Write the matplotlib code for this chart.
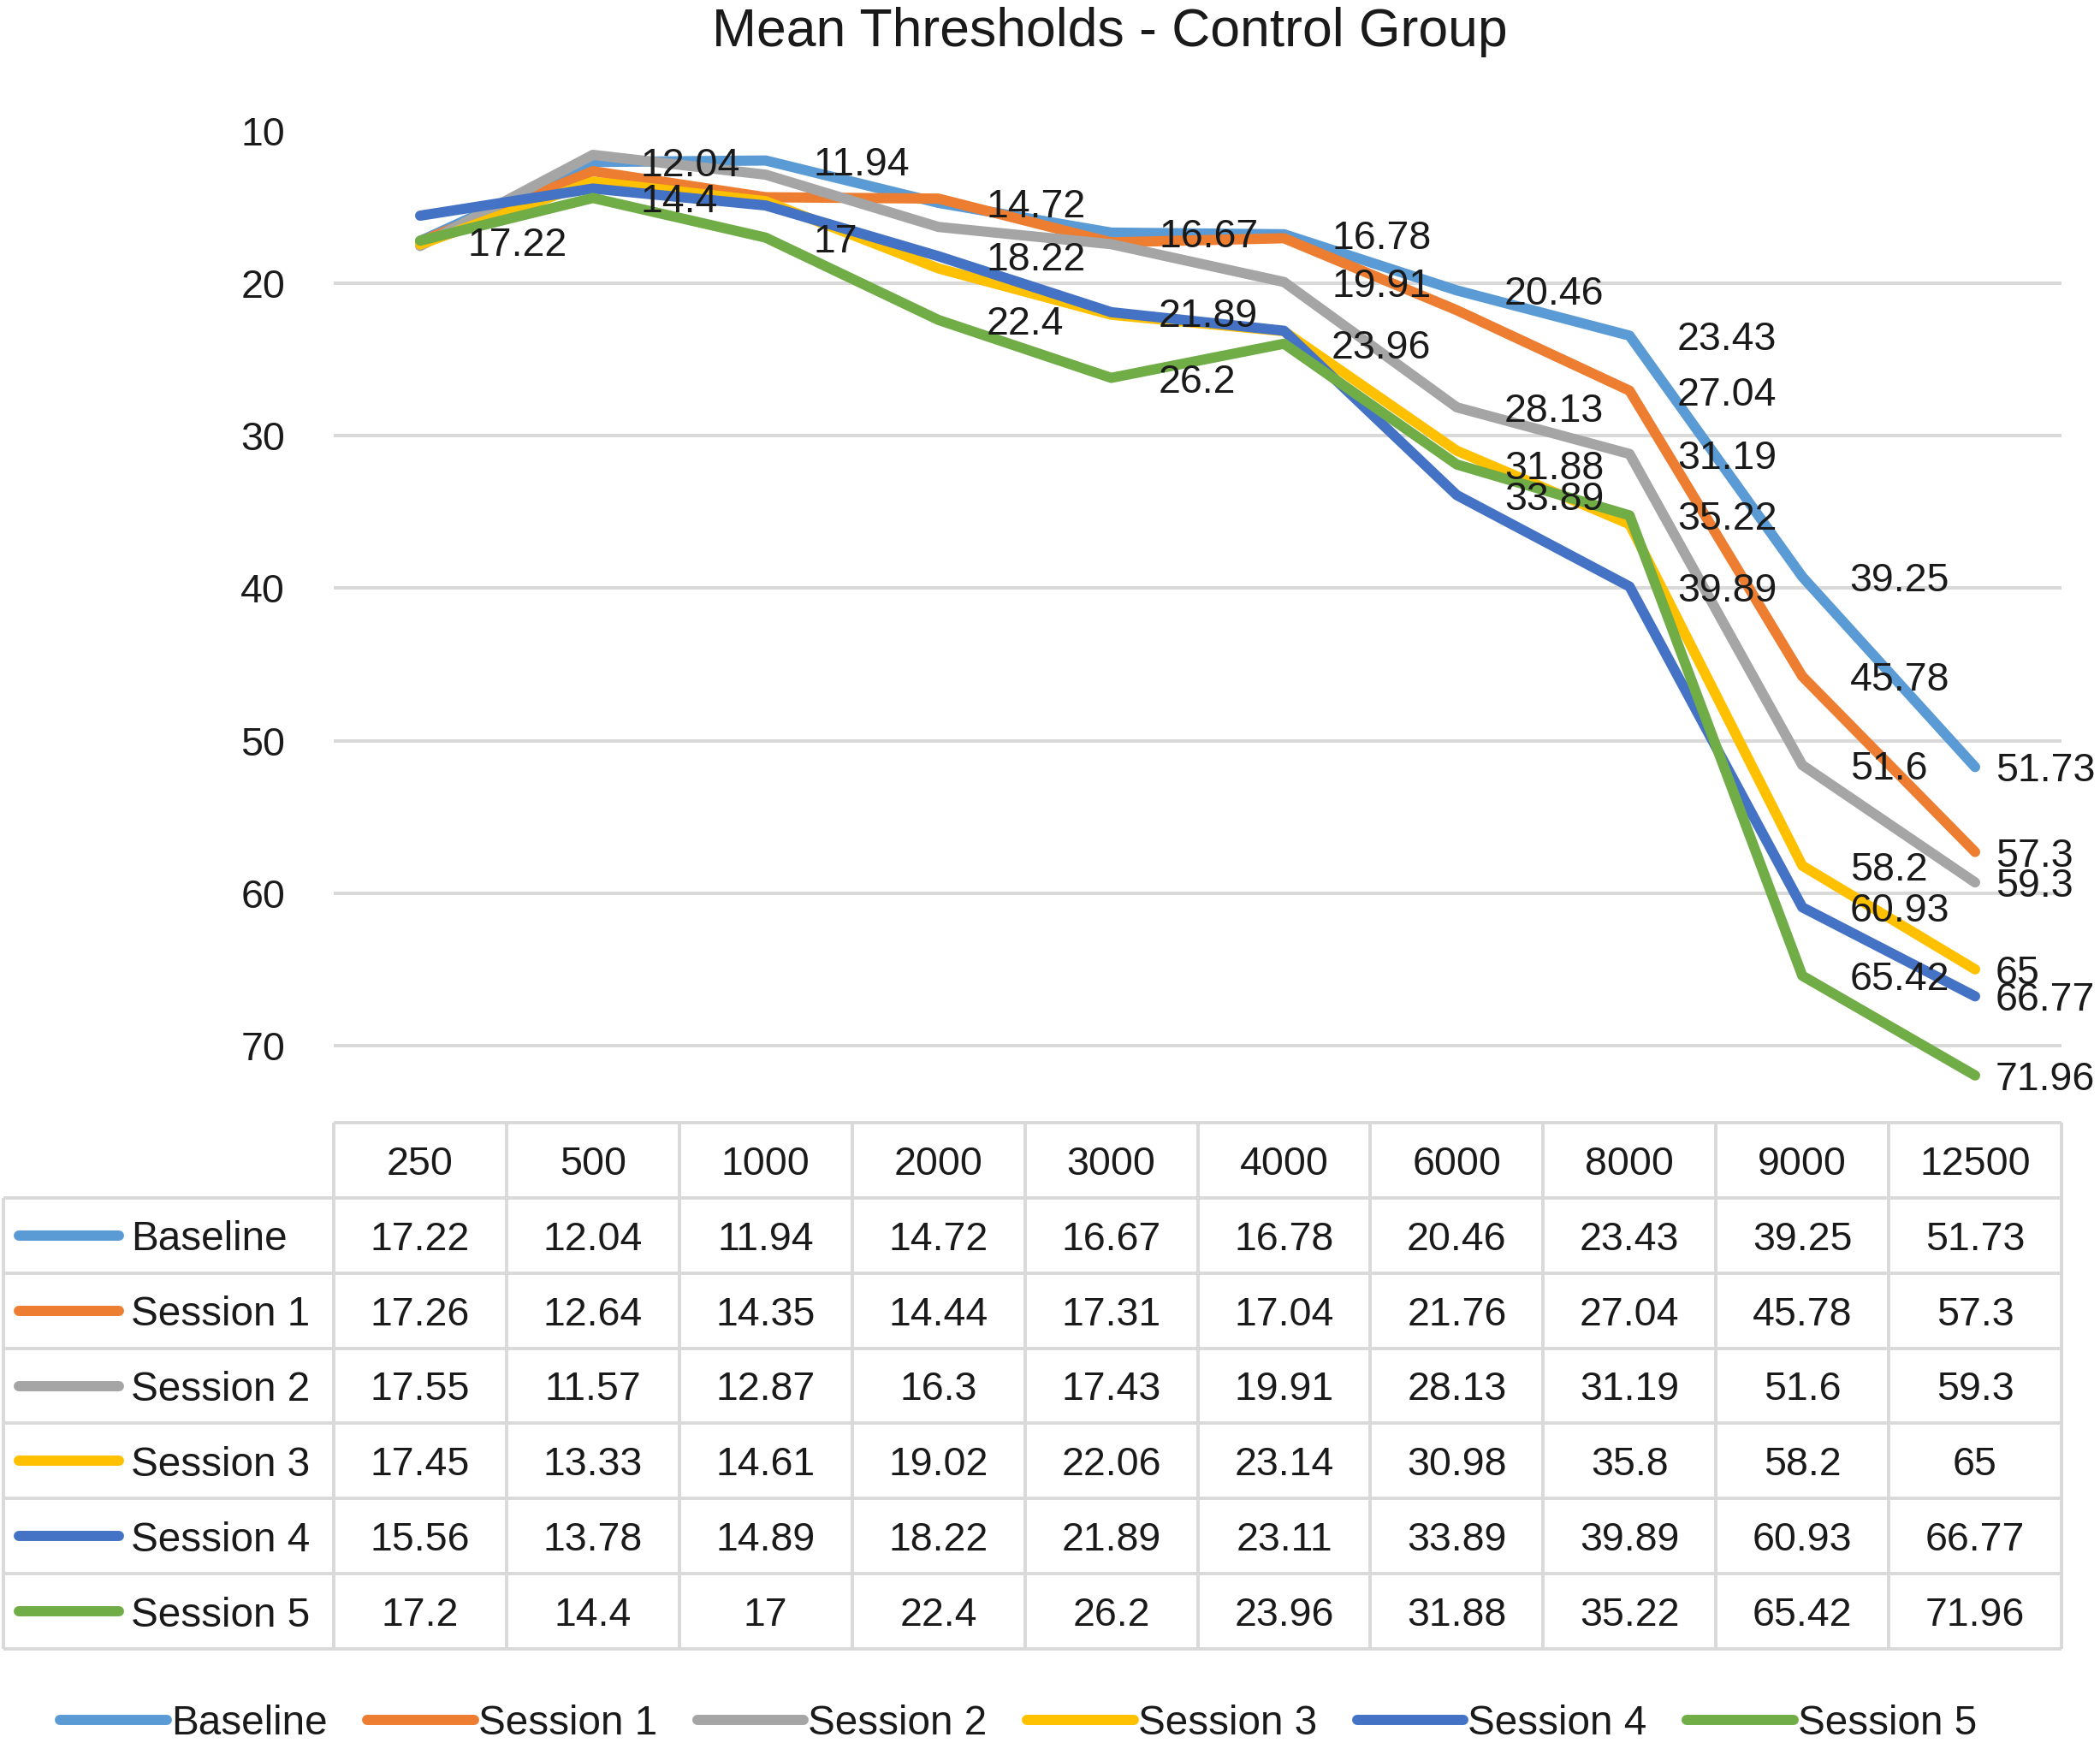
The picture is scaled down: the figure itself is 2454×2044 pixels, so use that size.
import matplotlib
matplotlib.use("Agg")
import matplotlib.pyplot as plt
import numpy as np

plt.rcParams["font.family"] = ["Liberation Sans", "DejaVu Sans"]

freqs = ["250", "500", "1000", "2000", "3000", "4000", "6000", "8000", "9000", "12500"]
names = ["Baseline", "Session 1", "Session 2", "Session 3", "Session 4", "Session 5"]
baseline = [17.22, 12.04, 11.94, 14.72, 16.67, 16.78, 20.46, 23.43, 39.25, 51.73]
session1 = [17.26, 12.64, 14.35, 14.44, 17.31, 17.04, 21.76, 27.04, 45.78, 57.3]
session2 = [17.55, 11.57, 12.87, 16.3, 17.43, 19.91, 28.13, 31.19, 51.6, 59.3]
session3 = [17.45, 13.33, 14.61, 19.02, 22.06, 23.14, 30.98, 35.8, 58.2, 65]
session4 = [15.56, 13.78, 14.89, 18.22, 21.89, 23.11, 33.89, 39.89, 60.93, 66.77]
session5 = [17.2, 14.4, 17, 22.4, 26.2, 23.96, 31.88, 35.22, 65.42, 71.96]
series = [baseline, session1, session2, session3, session4, session5]

# which data labels are visible in the chart, per series
shown_labels = [
    list(range(10)),
    [7, 8, 9],
    [5, 6, 7, 8, 9],
    [8, 9],
    [3, 4, 6, 7, 8, 9],
    [1, 2, 3, 4, 5, 6, 7, 8, 9],
]

colors = ["#5b9bd5", "#ed7d31", "#a5a5a5", "#ffc000", "#4472c4", "#70ad47"]
text_color = "#1a1a1a"
grid_color = "#d9d9d9"
fs = 33.5
fs_names = 34.3
lw = 8.6

W, H = 2454, 2044


def fx(px):
    return px / W


def fy(py):
    return 1 - py / H


fig = plt.figure(figsize=(W / 100, H / 100), dpi=100)
fig.patch.set_facecolor("white")

# main plot area
ax = fig.add_axes([fx(390), fy(1311), fx(2409) - fx(390), fy(153) - fy(1311)])
x = np.arange(len(freqs))
lines = []
for name, vals, col in zip(names, series, colors):
    (ln,) = ax.plot(x, vals, color=col, lw=lw, solid_capstyle="round",
                    solid_joinstyle="round", label=name, zorder=3)
    lines.append(ln)

for vals, idx in zip(series, shown_labels):
    for i in idx:
        dx = 40 if i < len(freqs) - 1 else 17
        ax.annotate(f"{vals[i]:g}", (x[i], vals[i]), xytext=(dx, 0),
                    textcoords="offset points", ha="left", va="center_baseline",
                    fontsize=fs, color=text_color, zorder=5)

ax.set_xlim(-0.5, len(freqs) - 0.5)
ax.set_ylim(75, 10)
ax.set_yticks(range(10, 71, 10))
ax.set_xticks([])
for v in range(20, 71, 10):
    ax.axhline(v, color=grid_color, lw=2.9, zorder=0)
for s in ax.spines.values():
    s.set_visible(False)
ax.tick_params(axis="y", length=0, pad=41, labelsize=fs, labelcolor=text_color)

# data table under the plot
col_w = (2409 - 390) / len(freqs)
left = -0.5 - (390 - 4) / col_w
tax = fig.add_axes([fx(4), fy(1927), fx(2409) - fx(4), fy(1312) - fy(1927)])
tax.set_xlim(left, len(freqs) - 0.5)
tax.set_ylim(len(names) - 0.5, -1.5)
tax.axis("off")

line_kw = dict(color=grid_color, lw=2.8, clip_on=False)
tax.hlines(-1.5, -0.5, len(freqs) - 0.5, **line_kw)
tax.hlines(np.arange(-0.5, len(names)), left, len(freqs) - 0.5, **line_kw)
tax.vlines(left, -0.5, len(names) - 0.5, **line_kw)
tax.vlines(np.arange(-0.5, len(freqs)), -1.5, len(names) - 0.5, **line_kw)

for i, f in enumerate(freqs):
    tax.text(i, -1, f, ha="center", va="center_baseline", fontsize=fs, color=text_color)

for r, (name, vals, col) in enumerate(zip(names, series, colors)):
    tax.plot([left + 18 / col_w, left + 135 / col_w], [r, r], color=col, lw=lw,
             solid_capstyle="round", clip_on=False)
    tax.text(left + 149 / col_w, r, name, ha="left", va="center_baseline",
             fontsize=fs_names, color=text_color)
    for i, v in enumerate(vals):
        tax.text(i, r, f"{v:g}", ha="center", va="center_baseline",
                 fontsize=fs, color=text_color)

fig.text(fx(1297), fy(54), "Mean Thresholds - Control Group", ha="center",
         va="baseline", fontsize=45, color=text_color)

fig.legend(handles=lines, labels=names, loc="center",
           bbox_to_anchor=(fx(1190), fy(2014)), ncol=6, frameon=False,
           handlelength=2.62, handletextpad=0.1, columnspacing=0.98,
           fontsize=fs_names, labelcolor=text_color)

fig.savefig("out.png", dpi=100)
